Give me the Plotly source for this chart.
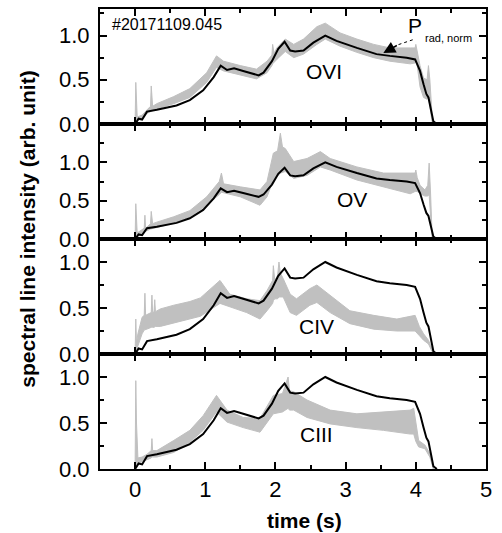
import plotly.graph_objects as go
from plotly.subplots import make_subplots

# ---- data ----
# normalised radiated power P_rad,norm (black, same in every panel)
prad_t = [0, 0.05, 0.10, 0.17, 0.31, 0.59, 0.78, 0.97, 1.12, 1.22, 1.31, 1.41, 1.54, 1.76, 1.83,
          1.95, 2.04, 2.13, 2.21, 2.28, 2.40, 2.54, 2.71, 2.87, 3.16, 3.44, 3.63, 3.87, 3.99, 4.06,
          4.11, 4.15, 4.18, 4.25, 4.30]
prad_v = [0, 0.06, 0.05, 0.14, 0.16, 0.21, 0.27, 0.38, 0.53, 0.66, 0.61, 0.63, 0.60, 0.55, 0.58,
          0.71, 0.85, 0.93, 0.83, 0.82, 0.83, 0.92, 1.00, 0.94, 0.86, 0.79, 0.77, 0.75, 0.73, 0.60,
          0.45, 0.34, 0.30, 0.03, 0.0]

# spectral lines (grey, noisy): time, lower and upper envelope of the noisy trace
ovi_t = [0.00, 0.01, 0.03, 0.10, 0.17, 0.22, 0.23, 0.25, 0.31, 0.55, 0.78, 1.02, 1.16, 1.26, 1.50,
         1.73, 1.88, 1.95, 1.96, 1.98, 2.02, 2.14, 2.26, 2.40, 2.59, 2.71, 2.92, 3.16, 3.40, 3.63,
         3.92, 3.99, 4.00, 4.02, 4.06, 4.11, 4.16, 4.18, 4.20, 4.23, 4.25]
ovi_hi = [0.00, 0.47, 0.08, 0.10, 0.16, 0.20, 0.43, 0.20, 0.23, 0.31, 0.40, 0.58, 0.77, 0.71, 0.66,
          0.62, 0.71, 0.78, 0.90, 0.80, 0.86, 0.96, 0.90, 0.96, 1.10, 1.14, 1.03, 0.96, 0.90, 0.86,
          0.86, 0.86, 0.90, 0.82, 0.66, 0.52, 0.50, 0.66, 0.50, 0.12, 0.00]
ovi_lo = [0.00, 0.02, 0.03, 0.07, 0.12, 0.14, 0.15, 0.15, 0.17, 0.23, 0.30, 0.47, 0.64, 0.60, 0.55,
          0.51, 0.58, 0.66, 0.68, 0.70, 0.73, 0.82, 0.75, 0.79, 0.90, 0.96, 0.88, 0.81, 0.75, 0.71,
          0.68, 0.69, 0.70, 0.66, 0.42, 0.30, 0.28, 0.32, 0.20, 0.03, 0.00]

ov_t = [0.00, 0.01, 0.03, 0.10, 0.13, 0.14, 0.15, 0.22, 0.23, 0.25, 0.31, 0.55, 0.78, 1.02, 1.20,
        1.23, 1.26, 1.50, 1.78, 1.88, 1.97, 2.03, 2.07, 2.10, 2.14, 2.26, 2.45, 2.64, 2.78, 3.16,
        3.54, 3.92, 3.99, 4.00, 4.02, 4.06, 4.13, 4.17, 4.19, 4.21, 4.23, 4.25]
ov_hi = [0.00, 0.46, 0.08, 0.12, 0.14, 0.31, 0.14, 0.20, 0.36, 0.20, 0.22, 0.29, 0.37, 0.55, 0.75,
         0.86, 0.72, 0.68, 0.64, 0.75, 1.12, 1.15, 1.38, 1.20, 1.18, 1.01, 1.05, 1.14, 1.05, 0.94,
         0.86, 0.86, 0.86, 0.90, 0.80, 0.70, 0.64, 0.70, 0.99, 0.60, 0.10, 0.00]
ov_lo = [0.00, 0.02, 0.03, 0.07, 0.09, 0.10, 0.10, 0.13, 0.14, 0.14, 0.15, 0.21, 0.29, 0.44, 0.58,
         0.61, 0.61, 0.55, 0.44, 0.55, 0.77, 0.82, 0.86, 0.87, 0.88, 0.79, 0.83, 0.94, 0.90, 0.77,
         0.68, 0.59, 0.62, 0.62, 0.62, 0.59, 0.56, 0.56, 0.58, 0.30, 0.03, 0.00]

civ_t = [0.00, 0.01, 0.02, 0.04, 0.10, 0.13, 0.14, 0.15, 0.20, 0.23, 0.24, 0.25, 0.27, 0.28, 0.29,
         0.36, 0.55, 0.78, 0.93, 1.21, 1.35, 1.59, 1.78, 1.88, 1.96, 1.97, 1.99, 2.03, 2.05, 2.07,
         2.11, 2.21, 2.30, 2.49, 2.59, 2.78, 3.06, 3.40, 3.73, 3.99, 4.05, 4.11, 4.18, 4.23, 4.25]
civ_hi = [0.00, 0.38, 0.12, 0.22, 0.40, 0.42, 0.66, 0.42, 0.44, 0.45, 0.64, 0.45, 0.46, 0.59, 0.46,
          0.49, 0.53, 0.57, 0.61, 0.80, 0.65, 0.60, 0.58, 0.69, 0.80, 0.96, 0.80, 0.85, 1.00, 0.88,
          0.82, 0.65, 0.60, 0.71, 0.75, 0.64, 0.47, 0.42, 0.38, 0.42, 0.30, 0.22, 0.15, 0.06, 0.00]
civ_lo = [0.00, 0.02, 0.03, 0.08, 0.22, 0.26, 0.27, 0.27, 0.28, 0.29, 0.29, 0.29, 0.29, 0.29, 0.30,
          0.30, 0.34, 0.38, 0.41, 0.55, 0.51, 0.45, 0.38, 0.47, 0.55, 0.58, 0.60, 0.60, 0.62, 0.62,
          0.62, 0.45, 0.42, 0.53, 0.56, 0.45, 0.33, 0.27, 0.25, 0.25, 0.20, 0.15, 0.11, 0.03, 0.00]

ciii_t = [0.00, 0.01, 0.02, 0.04, 0.10, 0.17, 0.23, 0.24, 0.25, 0.31, 0.55, 0.78, 0.97, 1.16, 1.31,
          1.54, 1.78, 1.97, 2.10, 2.18, 2.20, 2.26, 2.45, 2.78, 3.16, 3.54, 3.92, 3.97, 4.00, 4.04,
          4.13, 4.20, 4.25]
ciii_hi = [0.00, 0.96, 0.50, 0.12, 0.13, 0.16, 0.20, 0.33, 0.20, 0.20, 0.31, 0.42, 0.58, 0.80, 0.64,
           0.56, 0.55, 0.80, 0.82, 1.00, 0.85, 0.84, 0.75, 0.64, 0.60, 0.62, 0.64, 0.66, 0.50, 0.31,
           0.26, 0.17, 0.00]
ciii_lo = [0.00, 0.05, 0.05, 0.05, 0.08, 0.10, 0.12, 0.13, 0.13, 0.13, 0.18, 0.29, 0.42, 0.62, 0.51,
           0.45, 0.40, 0.60, 0.62, 0.66, 0.64, 0.64, 0.56, 0.49, 0.45, 0.42, 0.38, 0.38, 0.30, 0.24,
           0.22, 0.13, 0.00]

line_names = ["OVI", "OV", "CIV", "CIII"]
panels = [(ovi_t, ovi_lo, ovi_hi), (ov_t, ov_lo, ov_hi), (civ_t, civ_lo, civ_hi), (ciii_t, ciii_lo, ciii_hi)]
y_tops = [1.3, 1.5, 1.25, 1.25]
label_pos = [(2.69, 0.59), (3.09, 0.52), (2.59, 0.30), (2.58, 0.37)]
y_ticks = [0.0, 0.5, 1.0]
x_ticks = [0, 1, 2, 3, 4, 5]

GREY = "#c0c0c0"
FONT = "Liberation Sans, Arial, sans-serif"

fig = make_subplots(rows=4, cols=1, shared_xaxes=True, vertical_spacing=0)

for i, (t, lo, hi) in enumerate(panels):
    row = i + 1
    xs = list(t) + list(t)[::-1]
    ys = list(hi) + list(lo)[::-1]
    fig.add_trace(go.Scatter(x=xs, y=ys, mode="lines", fill="toself", fillcolor=GREY,
                             line=dict(color=GREY, width=1), hoverinfo="skip", showlegend=False),
                  row=row, col=1)
    fig.add_trace(go.Scatter(x=prad_t, y=prad_v, mode="lines", line=dict(color="black", width=2),
                             showlegend=False), row=row, col=1)
    xr = "x" if row == 1 else f"x{row}"
    yr = "y" if row == 1 else f"y{row}"
    fig.add_annotation(x=label_pos[i][0], y=label_pos[i][1], xref=xr, yref=yr, text=line_names[i],
                       showarrow=False, font=dict(family=FONT, size=21, color="black"))
    fig.update_yaxes(row=row, col=1, range=[0, y_tops[i]], tickmode="array", tickvals=y_ticks,
                     ticktext=[f"{v:.1f}" for v in y_ticks],
                     ticks="inside", ticklen=7, tickwidth=1.5, tickcolor="black",
                     minor=dict(tickmode="linear", tick0=0, dtick=0.25, ticks="inside", ticklen=4,
                                tickwidth=1.5, tickcolor="black"),
                     showline=True, linewidth=2, linecolor="black", mirror="allticks",
                     showgrid=False, zeroline=False, ticklabelstandoff=4,
                     tickfont=dict(family=FONT, size=22, color="black"))
    fig.update_xaxes(row=row, col=1, range=[-0.5, 5], tickmode="array", tickvals=x_ticks,
                     ticks="inside", ticklen=7, tickwidth=1.5, tickcolor="black",
                     minor=dict(tickmode="linear", tick0=0, dtick=0.5, ticks="inside", ticklen=4,
                                tickwidth=1.5, tickcolor="black"),
                     showline=True, linewidth=2, linecolor="black", mirror="allticks",
                     showgrid=False, zeroline=False,
                     tickfont=dict(family=FONT, size=22, color="black"))

# shot number
fig.add_annotation(x=-0.36, y=1.12, xref="x", yref="y", text="#20171109.045", showarrow=False,
                   xanchor="left", font=dict(family=FONT, size=16, color="black"))
# P_rad,norm label with dashed arrow
fig.add_annotation(x=3.99, y=1.11, xref="x", yref="y", text="P", showarrow=False,
                   font=dict(family=FONT, size=21, color="black"))
fig.add_annotation(x=4.10, y=0.97, xref="x", yref="y", text="rad, norm", showarrow=False,
                   xanchor="left", font=dict(family=FONT, size=11, color="black"))
fig.add_shape(type="line", x0=3.956, y0=0.952, x1=3.751, y1=0.897, xref="x", yref="y",
              line=dict(color="black", width=1, dash="dot"))
fig.add_annotation(x=3.537, y=0.803, ax=3.751, ay=0.897, xref="x", yref="y", axref="x", ayref="y",
                   text="", showarrow=True, arrowhead=2, arrowsize=1.6, arrowwidth=1.5,
                   arrowcolor="black", standoff=0)

# axis titles
fig.add_annotation(x=0.531, y=-0.112, xref="paper", yref="paper", text="<b>time (s)</b>",
                   showarrow=False, xanchor="center", yanchor="middle",
                   font=dict(family=FONT, size=21, color="black"))
fig.add_annotation(x=-0.187, y=0.522, xref="paper", yref="paper",
                   text="<b>spectral line intensity (arb. unit)</b>", textangle=-90,
                   showarrow=False, xanchor="center", yanchor="middle",
                   font=dict(family=FONT, size=21, color="black"))

fig.update_layout(width=502, height=533, margin=dict(l=100, r=16, t=7, b=64),
                  paper_bgcolor="white", plot_bgcolor="white", showlegend=False)

fig.write_html("out.html", config={"displayModeBar": False},
               post_script="document.body.style.margin='0';document.body.style.overflow='hidden';")
